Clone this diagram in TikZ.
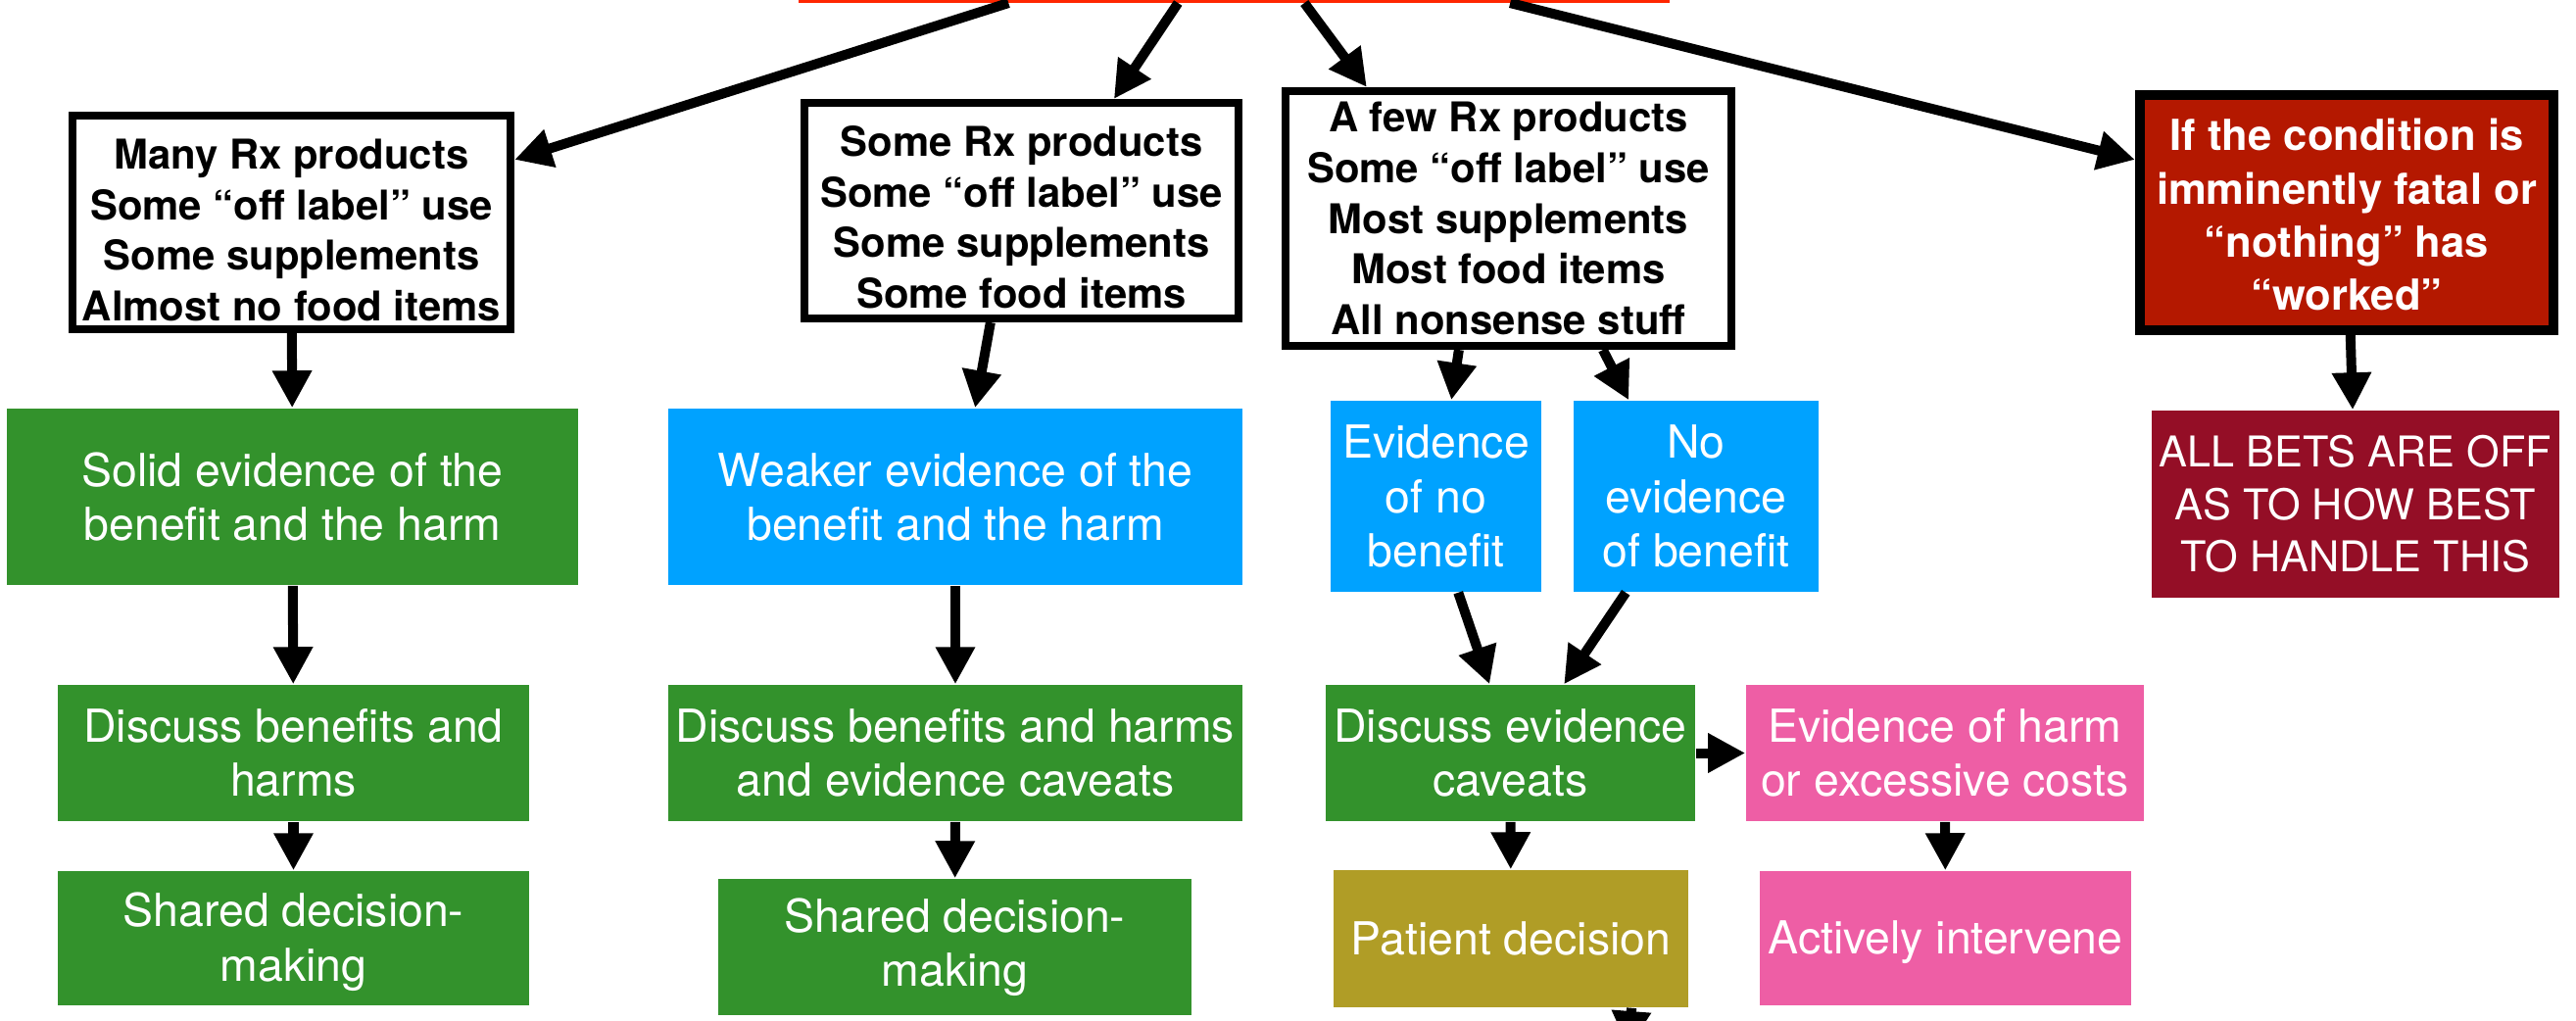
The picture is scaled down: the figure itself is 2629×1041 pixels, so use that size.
\documentclass[tikz,border=0pt]{standalone}
\usepackage{fontspec}
\setmainfont{TeX Gyre Heros}
\usetikzlibrary{
  arrows.meta,
  calc
}
\definecolor{sourcered}{RGB}{255,38,0}
\definecolor{solidgreen}{RGB}{51,146,44}
\definecolor{weakblue}{RGB}{0,162,255}
\definecolor{fatalred}{RGB}{180,24,0}
\definecolor{betsred}{RGB}{148,14,38}
\definecolor{harmpink}{RGB}{238,94,165}
\definecolor{patientolive}{RGB}{176,157,38}
\tikzset{
  % For the box on top that all the arrows leave from.
  source/.style={
    draw=sourcered,
    line width=0.03cm,
    fill=white,
    inner sep=0pt},
%
  % For the white lists of product kinds.
  listbox/.style={
    draw,
    line width=0.08cm,
    inner sep=0pt,
    align=center,
    font=\bfseries\fontsize{11.9pt}{14.7pt}\selectfont},
%
  % For the one framed box in dark red.
  warning/.style={
    listbox,
    line width=0.1cm,
    fill=fatalred,
    text=white,
    font=\bfseries\fontsize{12.4pt}{15.4pt}\selectfont},
%
  % For the filled boxes with white text; the argument is the fill.
  outcome/.style={
    fill=#1,
    text=white,
    inner sep=0pt,
    align=center,
    font=\fontsize{13.2pt}{15.7pt}\selectfont},
%
  % For the thick arrows between the boxes.
  connector/.style={
    line width=0.1cm,
    -{Triangle[length=0.38cm, width=0.38cm]}}
}

\begin{document}
\begin{tikzpicture}[x=0.01cm, y=-0.01cm]
  \useasboundingbox (0,0) rectangle (2629,1041);
  \clip (0,0) rectangle (2629,1041);

  \node[source, minimum width=8.85cm, minimum height=0.83cm] (top) at (1259.5,-40) {};

  % The four kinds of products.
  % (the rule on the first line pushes the text a little lower in the frame)
  \node[listbox, minimum width=4.47cm, minimum height=2.18cm] (many) at (297.5,227)
    {\rule{0pt}{13.2pt}Many Rx products\\Some “off label” use\\Some supplements\\Almost no food items};
  \node[listbox, minimum width=4.43cm, minimum height=2.20cm] (somerx) at (1042.5,215)
    {\rule{0pt}{12.6pt}Some Rx products\\Some “off label” use\\Some supplements\\Some food items};
  \node[listbox, minimum width=4.55cm, minimum height=2.60cm] (afew) at (1539.5,223)
    {A few Rx products\\Some “off label” use\\Most supplements\\Most food items\\All nonsense stuff};
  \node[warning, minimum width=4.22cm, minimum height=2.40cm] (fatal) at (2395,217)
    {\rule{0pt}{10.4pt}If the condition is\\imminently fatal or\\“nothing” has\\“worked”};

  % What the evidence says.
  \node[outcome=solidgreen, minimum width=5.83cm, minimum height=1.80cm] (solid) at (298.5,507)
    {Solid evidence of the\\benefit and the harm};
  \node[outcome=weakblue, minimum width=5.86cm, minimum height=1.80cm] (weaker) at (975,507)
    {Weaker evidence of the\\benefit and the harm};
  \node[outcome=weakblue, minimum width=2.15cm, minimum height=1.95cm] (nobenefit) at (1465.5,506.5)
    {Evidence\\of no\\benefit};
  \node[outcome=weakblue, minimum width=2.50cm, minimum height=1.95cm] (noevidence) at (1731,506.5)
    {No\\evidence\\of benefit};
  \node[outcome=betsred, minimum width=4.16cm, minimum height=1.91cm,
        font=\fontsize{12.3pt}{15.2pt}\selectfont] (allbets) at (2404,514.5)
    {ALL BETS ARE OFF\\AS TO HOW BEST\\TO HANDLE THIS};

  % What to talk about.
  \node[outcome=solidgreen, minimum width=4.81cm, minimum height=1.39cm] (discussone) at (299.5,768.5)
    {Discuss benefits and\\harms};
  \node[outcome=solidgreen, minimum width=5.86cm, minimum height=1.39cm] (discusstwo) at (975,768.5)
    {Discuss benefits and harms\\and evidence caveats};
  \node[outcome=solidgreen, minimum width=3.77cm, minimum height=1.39cm] (caveats) at (1541.5,768.5)
    {Discuss evidence\\caveats};
  \node[outcome=harmpink, minimum width=4.06cm, minimum height=1.39cm] (harm) at (1985,768.5)
    {Evidence of harm\\or excessive costs};

  % Who decides.
  \node[outcome=solidgreen, minimum width=4.81cm, minimum height=1.37cm] (sharedone) at (299.5,957.5)
    {\rule{0pt}{12pt}Shared decision-\\making};
  \node[outcome=solidgreen, minimum width=4.83cm, minimum height=1.39cm] (sharedtwo) at (974.5,966.5)
    {Shared decision-\\making};
  \node[outcome=patientolive, minimum width=3.62cm, minimum height=1.40cm] (patient) at (1542,958)
    {Patient decision};
  \node[outcome=harmpink, minimum width=3.79cm, minimum height=1.37cm] (intervene) at (1985.5,957.5)
    {\rule{0pt}{12pt}Actively intervene};

  \draw[connector] ($(top.south west)+(214,0)$) -- ($(many.north east)+(0,49)$);
  \draw[connector] ($(top.south west)+(387,0)$) -- ($(somerx.north west)+(320,0)$);
  \draw[connector] ($(top.south west)+(516,0)$) -- ($(afew.north west)+(87,0)$);
  \draw[connector] ($(top.south west)+(726,0)$) -- ($(fatal.north west)+(0,71)$);

  \draw[connector] (many) -- (solid);
  \draw[connector] (solid) -- (discussone);
  \draw[connector] (discussone) -- (sharedone);

  \draw[connector] ($(somerx.south west)+(194,0)$) -- ($(weaker.north west)+(314,0)$);
  \draw[connector] (weaker) -- (discusstwo);
  \draw[connector] (discusstwo) -- (sharedtwo);

  \draw[connector] ($(afew.south west)+(181,0)$) -- ($(nobenefit.north west)+(124,0)$);
  \draw[connector] ($(afew.south west)+(328,0)$) -- ($(noevidence.north west)+(57,0)$);
  \draw[connector] ($(nobenefit.south west)+(131,0)$) -- ($(caveats.north west)+(168,0)$);
  \draw[connector] ($(noevidence.south west)+(54,0)$) -- ($(caveats.north west)+(244,0)$);
  \draw[connector] (caveats) -- (harm);
  \draw[connector] (caveats) -- (patient);
  \draw[connector] (harm) -- (intervene);

  \draw[connector] (fatal) -- (allbets);

  % Leaves the picture at the bottom.
  \coordinate (exit) at (1662,1070);
  \draw[connector] ($(patient.south west)+(305,0)$) -- (exit);
\end{tikzpicture}
\end{document}
